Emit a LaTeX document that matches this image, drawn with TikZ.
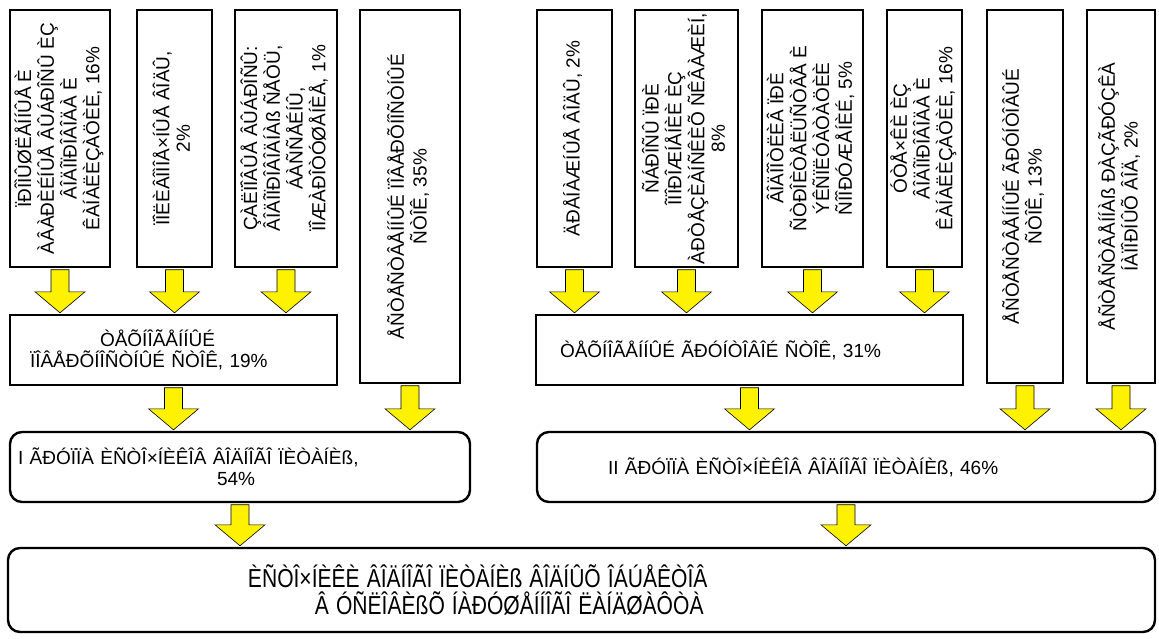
\documentclass[tikz,border=0pt]{standalone}
\usepackage{fontspec}
\setmainfont{Liberation Sans}
\usetikzlibrary{calc}

\newcommand{\vtext}[1]{\rotatebox{90}{\begin{tabular}{@{}c@{}}#1\end{tabular}}}
\newcommand{\fatarrow}[2]{%
  \draw[fat arrow] let \p1=(#1.south), \p2=(#2.north) in
    (\x1-9pt,\y1-1.5pt) -- (\x1+9pt,\y1-1.5pt) -- (\x1+9pt,\y2+22pt) -- (\x1+25pt,\y2+22pt)
    -- (\x1,\y2+1pt) -- (\x1-25pt,\y2+22pt) -- (\x1-9pt,\y2+22pt) -- cycle;}

\begin{document}
\begin{tikzpicture}[x=1pt,y=-1pt,
    src box/.style={draw, line width=2.4pt, fill=white, inner sep=0pt,
        minimum height=257pt, font=\fontsize{19}{20.5}\selectfont},
    tall box/.style={src box, minimum height=373pt},
    flow box/.style={draw, line width=2.4pt, fill=white, inner sep=0pt,
        minimum height=70pt, align=left, font=\fontsize{19}{21}\selectfont},
    group box/.style={flow box, rounded corners=12pt},
    fat arrow/.style={fill=yellow, draw=black, line width=0.6pt}
    ]
    \useasboundingbox (0,0) rectangle (1159,639);

    % first group of sources
    \node [src box, minimum width=100pt] (industrial) at (60,138.5)
        {\vtext{ÏÐÎÌÛØËÅÍÍÛÅ È\\ÀÂÀÐÈÉÍÛÅ ÂÛÁÐÎÑÛ ÈÇ\\ÂÎÄÎÏÐÎÂÎÄÀ È\\ÊÀÍÀËÈÇÀÖÈÈ, 16\%}};
    \node [src box, minimum width=75pt] (watering) at (174.5,138.5)
        {\vtext{ÏÎËÈÂÎÌÎÅ×ÍÛÅ ÂÎÄÛ,\\2\%}};
    \node [src box, minimum width=102pt] (salvo) at (286,138.5)
        {\vtext{ÇÀËÏÎÂÛÅ ÂÛÁÐÎÑÛ:\\ÂÎÄÎÏÐÎÂÎÄÍÀß ÑÅÒÜ,\\ÁÀÑÑÅÉÍÛ,\\ÏÎÆÀÐÎÒÓØÅÍÈÅ, 1\%}};
    \node [tall box, minimum width=100pt] (natsurface) at (410,196.5)
        {\vtext{ÅÑÒÅÑÒÂÅÍÍÛÉ ÏÎÂÅÐÕÍÎÑÒÍÛÉ\\ÑÒÎÊ, 35\%}};

    % second group of sources
    \node [src box, minimum width=75pt] (drainage) at (574.5,138.5)
        {\vtext{ÄÐÅÍÀÆÍÛÅ ÂÎÄÛ, 2\%}};
    \node [src box, minimum width=103pt] (wells) at (686.5,138.5)
        {\vtext{ÑÁÐÎÑÛ ÏÐÈ\\ÎÏÎÐÎÆÍÅÍÈÈ ÈÇ\\ÀÐÒÅÇÈÀÍÑÊÈÕ ÑÊÂÀÆÈÍ,\\8\%}};
    \node [src box, minimum width=101pt] (dewatering) at (812.5,138.5)
        {\vtext{ÂÎÄÎÎÒËÈÂ ÏÐÈ\\ÑÒÐÎÈÒÅËÜÑÒÂÅ È\\ÝÊÑÏËÓÀÒÀÖÈÈ\\ÑÎÎÐÓÆÅÍÈÉ, 5\%}};
    \node [src box, minimum width=75pt] (leaks) at (924.5,138.5)
        {\vtext{ÓÒÅ×ÊÈ ÈÇ\\ÂÎÄÎÏÐÎÂÎÄÀ È\\ÊÀÍÀËÈÇÀÖÈÈ, 16\%}};
    \node [tall box, minimum width=76pt] (natground) at (1025,196.5)
        {\vtext{ÅÑÒÅÑÒÂÅÍÍÛÉ ÃÐÓÍÒÎÂÛÉ\\ÑÒÎÊ, 13\%}};
    \node [tall box, minimum width=68pt] (pressure) at (1121,196.5)
        {\vtext{ÅÑÒÅÑÒÂÅÍÍÀß ÐÀÇÃÐÓÇÊÀ\\ÍÀÏÎÐÍÛÕ ÂÎÄ, 2\%}};

    % technogenic runoff
    \node [flow box, text width=327pt] (techsurface) at (173.5,350)
        {\hspace*{90pt}ÒÅÕÍÎÃÅÍÍÛÉ\\\hspace*{20pt}ÏÎÂÅÐÕÍÎÑÒÍÛÉ ÑÒÎÊ, 19\%};
    \node [flow box, text width=427pt] (techground) at (749.5,350)
        {\hspace*{24pt}ÒÅÕÍÎÃÅÍÍÛÉ ÃÐÓÍÒÎÂÎÉ ÑÒÎÊ, 31\%};

    % groups
    \node [group box, text width=460pt] (groupone) at (240,467)
        {\hspace*{8pt}I ÃÐÓÏÏÀ ÈÑÒÎ×ÍÈÊÎÂ ÂÎÄÍÎÃÎ ÏÈÒÀÍÈß,\\\hspace*{207pt}54\%};
    \node [group box, text width=618pt] (grouptwo) at (846,467)
        {\hspace*{71pt}II ÃÐÓÏÏÀ ÈÑÒÎ×ÍÈÊÎÂ ÂÎÄÍÎÃÎ ÏÈÒÀÍÈß, 46\%};

    \node [group box, text width=1147pt, minimum height=84pt,
        font=\fontsize{26}{27}\selectfont] (total) at (581.5,590)
        {\hspace*{240pt}\scalebox{0.81}[1]{ÈÑÒÎ×ÍÈÊÈ ÂÎÄÍÎÃÎ ÏÈÒÀÍÈß ÂÎÄÍÛÕ ÎÁÚÅÊÒÎÂ}\\
         \hspace*{307pt}\scalebox{0.81}[1]{Â ÓÑËÎÂÈßÕ ÍÀÐÓØÅÍÍÎÃÎ ËÀÍÄØÀÔÒÀ}};

    \fatarrow{industrial}{techsurface}
    \fatarrow{watering}{techsurface}
    \fatarrow{salvo}{techsurface}
    \fatarrow{drainage}{techground}
    \fatarrow{wells}{techground}
    \fatarrow{dewatering}{techground}
    \fatarrow{leaks}{techground}
    \fatarrow{techsurface}{groupone}
    \fatarrow{natsurface}{groupone}
    \fatarrow{techground}{grouptwo}
    \fatarrow{natground}{grouptwo}
    \fatarrow{pressure}{grouptwo}
    \fatarrow{groupone}{total}
    \fatarrow{grouptwo}{total}
\end{tikzpicture}
\end{document}
